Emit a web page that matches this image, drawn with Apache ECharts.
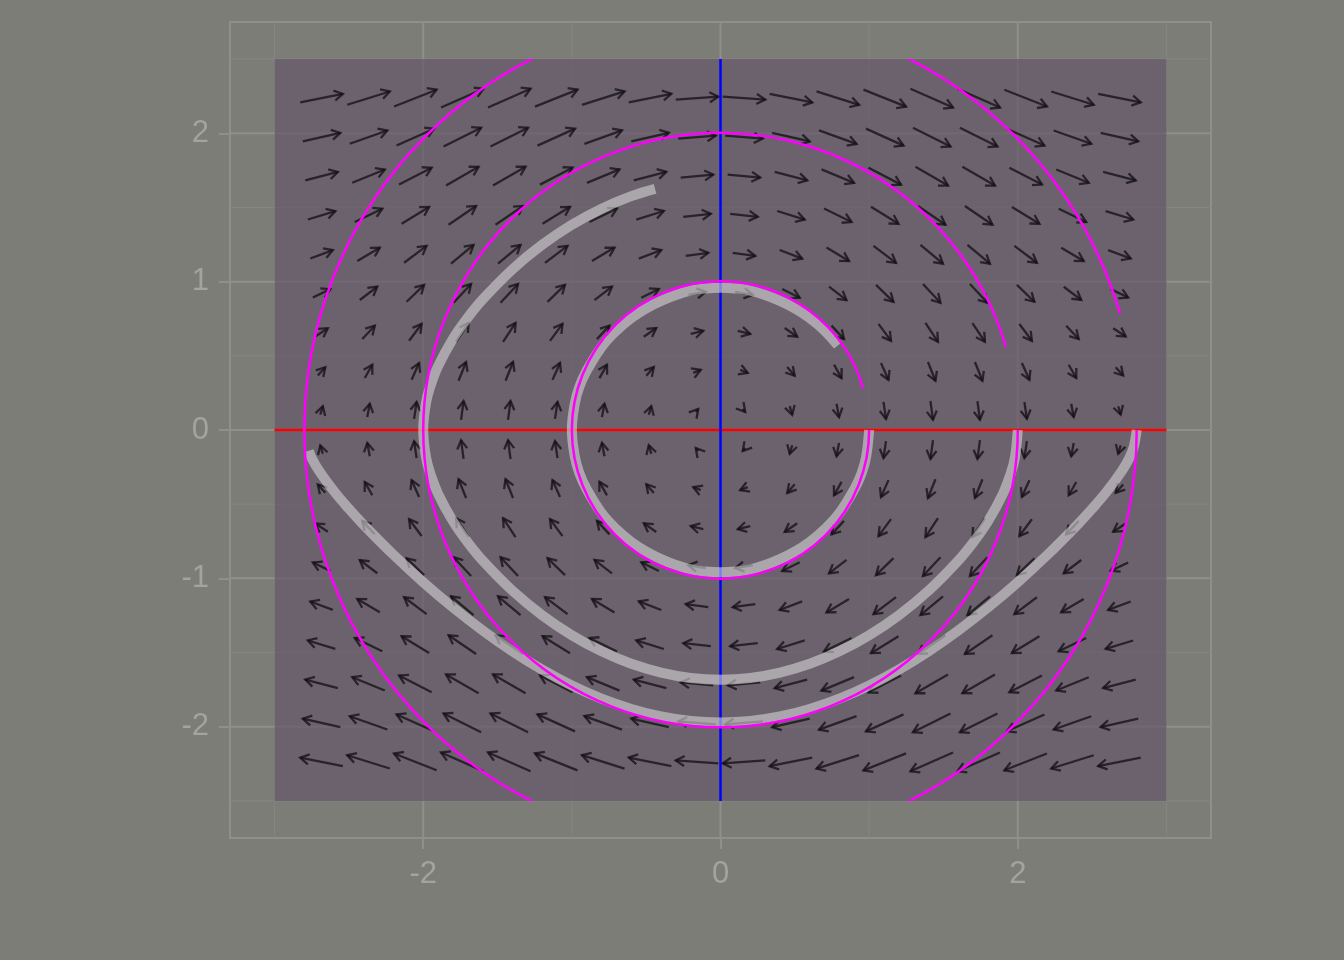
<!DOCTYPE html>
<html><head><meta charset="utf-8">
<script src="https://cdn.jsdelivr.net/npm/echarts@6/dist/echarts.min.js"></script>
<style>html,body{margin:0;padding:0;background:#7c7d77}#c{width:1344px;height:960px}</style>
</head><body><div id="c"></div>
<script>
// ---- data ----
const xTickValues = [-2, 0, 2];
const yTickValues = [-2, -1, 0, 1, 2];
const xMajorGrid = [-2, 0, 2];
const xMinorGrid = [-3, -1, 1, 3];
const yMajorGrid = [-2, -1, 0, 1, 2];
const yMinorGrid = [-2.5, -1.5, -0.5, 0.5, 1.5, 2.5];
const regionBox = [-3, -2.5, 3, 2.5];

// arrow grid (centres) and velocity components
const fieldX = [-2.684, -2.368, -2.053, -1.737, -1.421, -1.105, -0.789, -0.474, -0.158,
                 0.158, 0.474, 0.789, 1.105, 1.421, 1.737, 2.053, 2.368, 2.684];
const fieldY = [-2.237, -1.974, -1.711, -1.447, -1.184, -0.921, -0.658, -0.395, -0.132,
                 0.132, 0.395, 0.658, 0.921, 1.184, 1.447, 1.711, 1.974, 2.237];
// horizontal velocity per row (same for every column of that row)
const rowVelX = [-2.237, -1.974, -1.711, -1.447, -1.184, -0.921, -0.658, -0.395, -0.132,
                  0.132, 0.395, 0.658, 0.921, 1.184, 1.447, 1.711, 1.974, 2.237];
// vertical velocity per column (same for every row of that column)
const colVelY = [0.442, 0.698, 0.886, 0.986, 0.989, 0.893, 0.710, 0.456, 0.157,
                -0.157, -0.456, -0.710, -0.893, -0.989, -0.986, -0.886, -0.698, -0.442];

const hLine = [[-3, 0], [3, 0]];
const vLine = [[0, -2.5], [0, 2.5]];

const circleRadii = [1, 2, 2.8];
const circleSweep = [6.0, 6.0, 6.0];

const trajA = [[1,0],[0.98,-0.18],[0.95,-0.29],[0.9,-0.40],[0.8,-0.56],[0.7,-0.67],[0.6,-0.755],[0.5,-0.82],[0.4,-0.87],[0.3,-0.91],[0.2,-0.94],[0.1,-0.954],[0,-0.959],
  [-0.1,-0.954],[-0.2,-0.94],[-0.3,-0.91],[-0.4,-0.87],[-0.5,-0.82],[-0.6,-0.755],[-0.7,-0.67],[-0.8,-0.56],[-0.9,-0.40],[-0.95,-0.29],[-0.98,-0.18],[-1,0],
  [-0.98,0.18],[-0.95,0.29],[-0.9,0.40],[-0.8,0.56],[-0.7,0.67],[-0.6,0.755],[-0.5,0.82],[-0.4,0.87],[-0.3,0.91],[-0.2,0.94],[-0.1,0.954],[0,0.959],
  [0.1,0.954],[0.2,0.94],[0.3,0.91],[0.4,0.87],[0.5,0.82],[0.6,0.755],[0.7,0.67],[0.79,0.57]];
const trajB = [[2,0],[1.98,-0.19],[1.95,-0.30],[1.9,-0.43],[1.8,-0.615],[1.7,-0.758],[1.6,-0.88],[1.4,-1.083],[1.2,-1.248],[1.0,-1.383],[0.8,-1.492],[0.6,-1.576],[0.4,-1.635],[0.2,-1.671],[0,-1.683],
  [-0.2,-1.671],[-0.4,-1.635],[-0.6,-1.576],[-0.8,-1.492],[-1.0,-1.383],[-1.2,-1.248],[-1.4,-1.083],[-1.6,-0.88],[-1.7,-0.758],[-1.8,-0.615],[-1.9,-0.43],[-1.95,-0.30],[-1.98,-0.19],[-2,0],
  [-1.98,0.19],[-1.95,0.30],[-1.9,0.43],[-1.8,0.615],[-1.7,0.758],[-1.6,0.88],[-1.4,1.083],[-1.2,1.248],[-1.0,1.383],[-0.8,1.492],[-0.6,1.576],[-0.44,1.625]];
const trajC = [[2.8,0],[2.78,-0.115],[2.75,-0.19],[2.7,-0.276],[2.6,-0.413],[2.5,-0.531],[2.4,-0.64],[2.2,-0.841],[2.0,-1.026],[1.8,-1.196],[1.6,-1.351],[1.4,-1.491],[1.2,-1.615],[1.0,-1.722],[0.8,-1.811],[0.6,-1.880],[0.4,-1.931],[0.2,-1.961],[0,-1.971],
  [-0.2,-1.961],[-0.4,-1.931],[-0.6,-1.880],[-0.8,-1.811],[-1.0,-1.722],[-1.2,-1.615],[-1.4,-1.491],[-1.6,-1.351],[-1.8,-1.196],[-2.0,-1.026],[-2.2,-0.841],[-2.4,-0.64],[-2.5,-0.531],[-2.6,-0.413],[-2.7,-0.276],[-2.75,-0.19],[-2.77,-0.14]];

// ---- styles ----
const ARROW_SCALE = 0.128;
const majorColor = '#8f908a';
const minorColor = '#868781';
const labelColor = '#a3a49e';

const arrowData = [];
for (let i = 0; i < fieldY.length; i++) {
  for (let j = 0; j < fieldX.length; j++) {
    arrowData.push([fieldX[j], fieldY[i], rowVelX[i], colVelY[j]]);
  }
}

function gridLineSeries(values, vertical, color, width) {
  return {
    type: 'custom', z: 1, silent: true, clip: false,
    data: values.map(v => vertical ? [v, 0] : [0, v]),
    renderItem(params, api) {
      const cs = params.coordSys;
      if (vertical) {
        const p = api.coord([api.value(0), 0]);
        return { type: 'line', shape: { x1: p[0], y1: cs.y, x2: p[0], y2: cs.y + cs.height },
                 style: { stroke: color, lineWidth: width } };
      } else {
        const p = api.coord([0, api.value(1)]);
        return { type: 'line', shape: { x1: cs.x, y1: p[1], x2: cs.x + cs.width, y2: p[1] },
                 style: { stroke: color, lineWidth: width } };
      }
    }
  };
}

const chart = echarts.init(document.getElementById('c'), null, { renderer: 'canvas' });
chart.setOption({
  animation: false,
  backgroundColor: '#7c7d77',
  grid: { left: 230, right: 133, top: 22, bottom: 122, show: true, borderColor: majorColor, borderWidth: 2, backgroundColor: 'transparent' },
  xAxis: {
    type: 'value', min: -3.3, max: 3.3,
    axisLine: { show: false, onZero: false },
    splitLine: { show: false },
    axisTick: { show: true, customValues: xTickValues, length: 11, lineStyle: { color: majorColor, width: 2 } },
    axisLabel: { customValues: xTickValues, fontSize: 31, color: labelColor, fontFamily: 'Liberation Sans', margin: 21 }
  },
  yAxis: {
    type: 'value', min: -2.75, max: 2.75,
    axisLine: { show: false, onZero: false },
    splitLine: { show: false },
    axisTick: { show: true, customValues: yTickValues, length: 11, lineStyle: { color: majorColor, width: 2 } },
    axisLabel: { customValues: yTickValues, fontSize: 31, color: labelColor, fontFamily: 'Liberation Sans', margin: 21 }
  },
  series: [
    gridLineSeries(xMinorGrid, true, minorColor, 1),
    gridLineSeries(yMinorGrid, false, minorColor, 1),
    gridLineSeries(xMajorGrid, true, majorColor, 2),
    gridLineSeries(yMajorGrid, false, majorColor, 2),
    {
      type: 'custom', z: 2, silent: true,
      data: [regionBox],
      renderItem(params, api) {
        const p0 = api.coord([api.value(0), api.value(3)]);
        const p1 = api.coord([api.value(2), api.value(1)]);
        return { type: 'rect', shape: { x: p0[0], y: p0[1], width: p1[0] - p0[0], height: p1[1] - p0[1] },
                 style: { fill: 'rgba(102,87,107,0.72)' } };
      }
    },
    {
      type: 'custom', z: 3, silent: true,
      data: arrowData,
      renderItem(params, api) {
        const x = api.value(0), y = api.value(1), u = api.value(2), v = api.value(3);
        const p0 = api.coord([x - ARROW_SCALE * u / 2, y - ARROW_SCALE * v / 2]);
        const p1 = api.coord([x + ARROW_SCALE * u / 2, y + ARROW_SCALE * v / 2]);
        const ang = Math.atan2(p1[1] - p0[1], p1[0] - p0[0]);
        const h = 10, a = Math.PI / 6;
        const l = [p1[0] - h * Math.cos(ang - a), p1[1] - h * Math.sin(ang - a)];
        const r = [p1[0] - h * Math.cos(ang + a), p1[1] - h * Math.sin(ang + a)];
        const st = { stroke: 'rgba(20,17,22,0.78)', lineWidth: 2.3, fill: null, lineCap: 'butt', lineJoin: 'miter' };
        return { type: 'group', children: [
          { type: 'line', shape: { x1: p0[0], y1: p0[1], x2: p1[0], y2: p1[1] }, style: st },
          { type: 'polyline', shape: { points: [l, p1, r] }, style: st }
        ] };
      }
    },
    { type: 'line', z: 4, data: hLine, symbol: 'none', silent: true, lineStyle: { color: '#ff0000', width: 2.5 } },
    { type: 'line', z: 4, data: vLine, symbol: 'none', silent: true, lineStyle: { color: '#0000ff', width: 2.5 } },
    ...[trajA, trajB, trajC].map(t => ({
      type: 'line', z: 5, data: t, symbol: 'none', smooth: 0.4, silent: true,
      lineStyle: { color: 'rgba(211,211,211,0.6)', width: 10, cap: 'butt', join: 'round' }
    })),
    {
      type: 'custom', z: 6, silent: true,
      data: circleRadii.map((r, i) => [r, circleSweep[i]]),
      renderItem(params, api) {
        const c = api.coord([0, 0]);
        const rpx = api.size([api.value(0), 0])[0];
        const b0 = api.coord([regionBox[0], regionBox[3]]);
        const b1 = api.coord([regionBox[2], regionBox[1]]);
        return {
          type: 'arc',
          shape: { cx: c[0], cy: c[1], r: rpx, startAngle: 0, endAngle: api.value(1), clockwise: true },
          style: { stroke: '#ff00ff', lineWidth: 2.5, fill: null },
          clipPath: { type: 'rect', shape: { x: b0[0], y: b0[1], width: b1[0] - b0[0], height: b1[1] - b0[1] } }
        };
      }
    }
  ]
});
</script></body></html>
